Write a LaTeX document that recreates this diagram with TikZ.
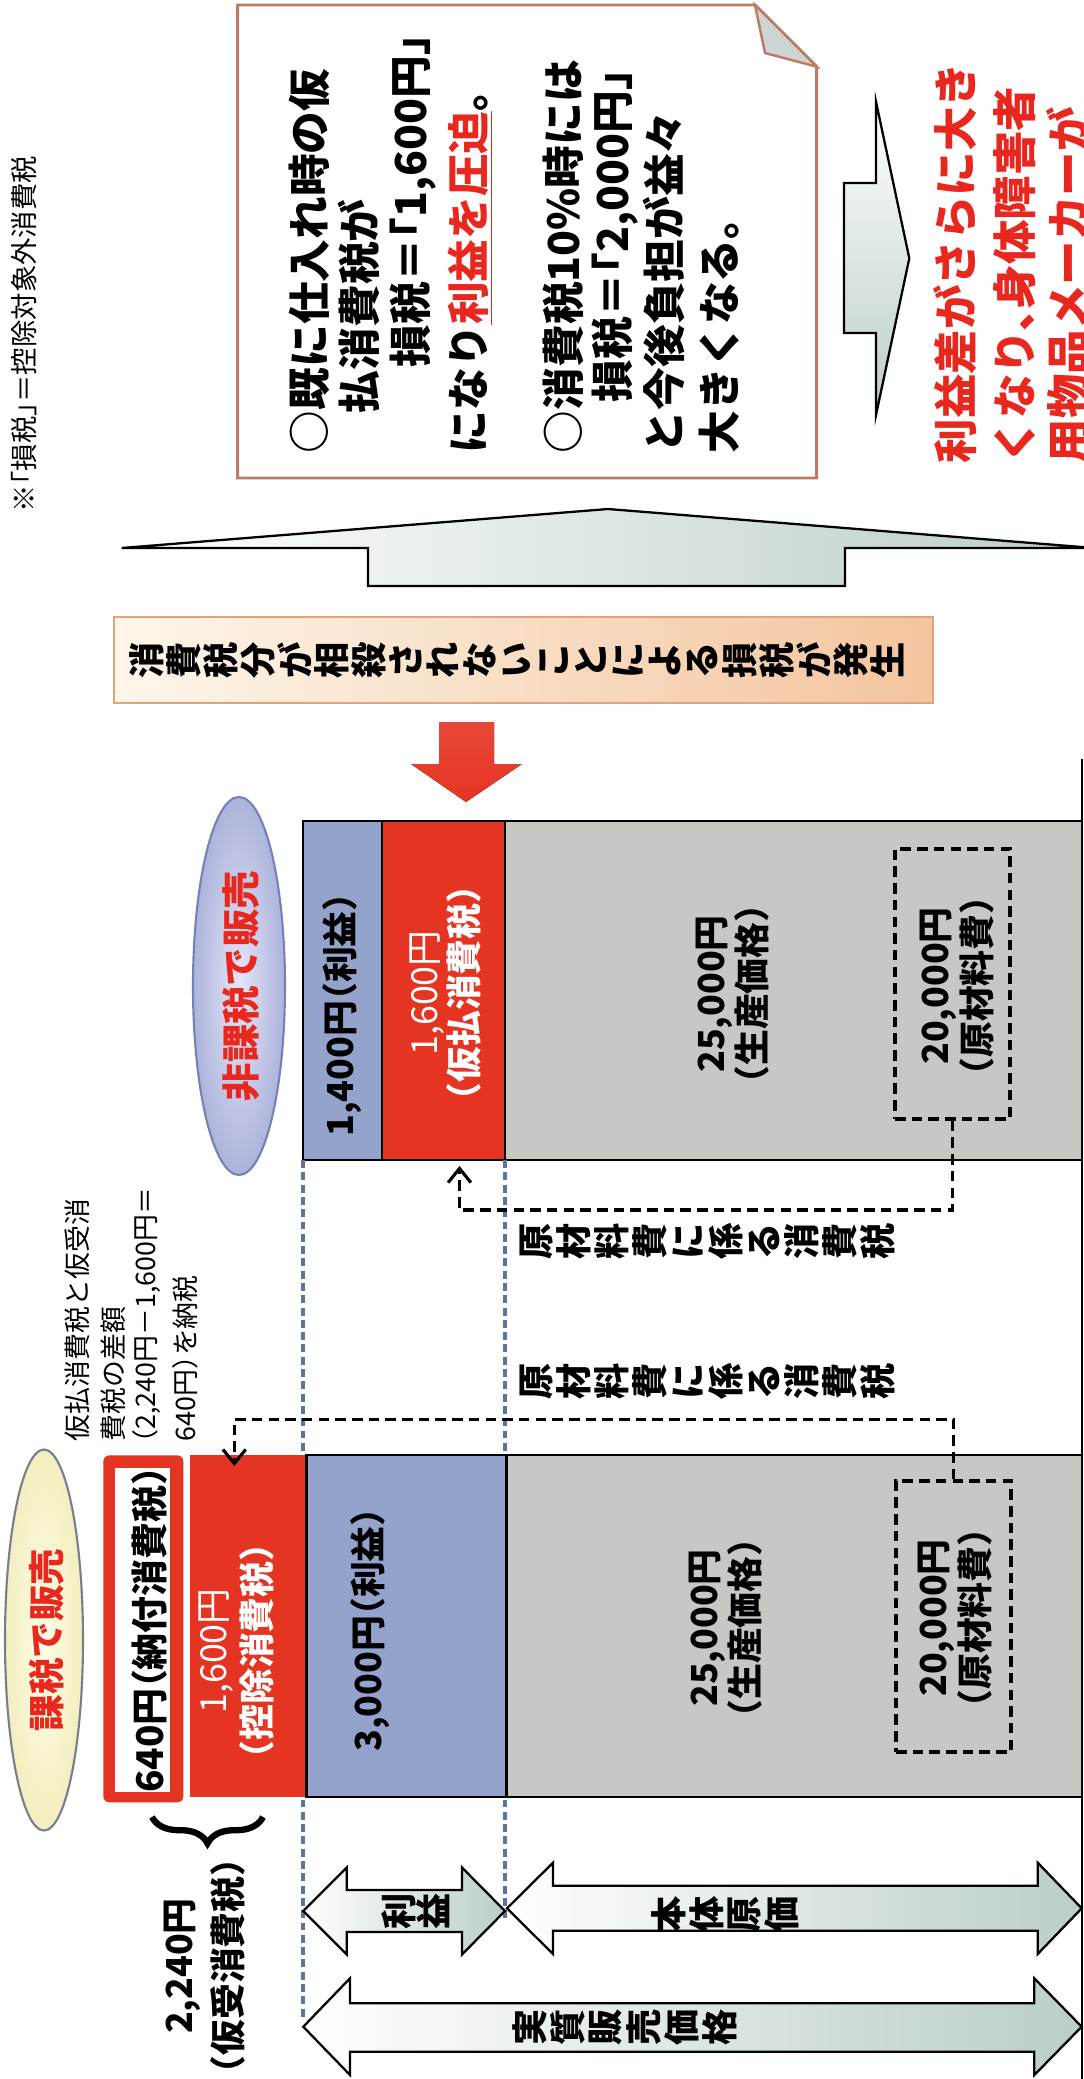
\documentclass[tikz,border=0pt]{standalone}
\usepackage{fontspec}
\setmainfont{Noto Sans CJK JP}[RawFeature=+halt]
\usetikzlibrary{shapes.geometric,arrows.meta,decorations.pathreplacing,calc}
\definecolor{barred}{RGB}{230,52,35}
\definecolor{barblue}{RGB}{148,163,204}
\definecolor{bargray}{RGB}{198,200,195}
\definecolor{txred}{RGB}{232,40,30}
\definecolor{noteedge}{RGB}{190,122,100}
\definecolor{foldfill}{RGB}{205,214,212}
\definecolor{arrowgreen}{RGB}{186,206,202}
\definecolor{guideblue}{RGB}{88,118,160}
\definecolor{peachL}{RGB}{253,246,234}
\definecolor{peachR}{RGB}{244,196,158}
\definecolor{peachedge}{RGB}{222,165,125}
\definecolor{lavIn}{RGB}{228,230,246}
\definecolor{lavOut}{RGB}{172,180,220}
\definecolor{lavEdge}{RGB}{118,130,180}
\definecolor{yelIn}{RGB}{255,253,232}
\definecolor{yelOut}{RGB}{243,238,190}
\definecolor{ellEdge}{RGB}{120,125,140}
\newcommand\fs[1]{\fontsize{#1}{#1}\selectfont}
\def\upx{0.02cm}
\begin{document}
\begin{tikzpicture}[x=0.02cm,y=-0.02cm,
  txrot/.style={inner sep=0pt, outer sep=0pt, rotate=90},
  lnrot/.style={txrot, anchor=west},
  vch/.style={inner sep=0pt, rotate=90, font=\fs{20.6}\bfseries},
  barbox/.style={draw=black, line width=1.6pt, anchor=north west, inner sep=0pt, outer sep=0pt},
  dbox/.style={draw=black, line width=2pt, dash pattern=on 6pt off 3.5pt, inner sep=0pt},
  conn/.style={draw=black, line width=2pt, dash pattern=on 6pt off 3.5pt, -{Straight Barb[length=8pt,width=13pt,line width=1.8pt]}},
  guide/.style={draw=guideblue, line width=1.8pt, dash pattern=on 4.5pt off 2.5pt},
  blockarrow/.style={draw=black, line width=1.3pt, left color=white, right color=arrowgreen},
  notefont/.style={font=\fs{24.3}\bfseries},
  redfont/.style={font=\fs{25.3}\bfseries, text=txred},
  lblfont/.style={font=\fontsize{20.4}{23.5}\selectfont\bfseries, align=center}
]
\useasboundingbox (0,0) rectangle (1084,2079);
\clip (0,0) rectangle (1084,2079);
\fill[white] (0,0) rectangle (1084,2079);

% footnote
\node[txrot, font=\fs{15.6}] (foot) at (24,334) {※「損税」＝控除対象外消費税};

% note box with folded corner
\draw[noteedge, line width=1.7pt, fill=white] (237.7,5) -- (755,5) -- (816.7,66.7) -- (816.7,478) -- (237.7,478) -- cycle;
\draw[noteedge, line width=1.4pt, fill=foldfill] (755,5) -- (765,53) -- (816.7,66.7) -- cycle;

\node[lnrot, notefont] (n1) at (309,453) {○既に仕入れ時の仮};
\node[lnrot, notefont] (n2) at (359,413) {払消費税が};
\node[lnrot, notefont] (n3) at (413,367) {損税＝「1,600円」};
\node[lnrot, notefont] (n4) at (470,453) {になり\textcolor{txred}{\underline{利益を圧迫}}。};
\node[lnrot, notefont] (n5) at (563,453) {○消費税10\%時には};
\node[lnrot, notefont] (n6) at (615,402) {損税＝「2,000円」};
\node[lnrot, notefont] (n7) at (664,453) {と今後負担が益々};
\node[lnrot, notefont] (n8) at (719,453) {大きくなる。};

% right pointing arrow
\draw[draw=black, line width=1.3pt, top color=white, bottom color=arrowgreen]
  (844,183) -- (876,183) -- (876,101.7) -- (909.3,258.3) -- (876,415) -- (876,333) -- (844,333) -- cycle;

% red text on the right (cut by the picture's edge, as in the original)
\node[lnrot, redfont] (r1) at (955,463) {利益差がさらに大き};
\node[lnrot, redfont] (r2) at (1015,463) {くなり、身体障害者};
\node[lnrot, redfont] (r3) at (1068,463) {用物品メーカーが};

% big upward arrow
\draw[blockarrow] (121.7,548) -- (368,548) -- (368,586) -- (845,586) -- (845,548) -- (1094,548) -- (608,509) -- cycle;

% banner
\node[draw=peachedge, line width=1.2pt, left color=peachL, right color=peachR,
  minimum width=819*\upx, minimum height=86*\upx, inner sep=0pt] (banner) at (523.5,660) {};
\foreach \c [count=\i from 0] in {消,費,税,分,が,相,殺,さ,れ,な,い,こ,と,に,よ,る,損,税,が,発,生}
  \node[vch] (bn\i) at (146.5+37.05*\i,660) {\c};

% red down arrow
\fill[top color=barred!90!white, bottom color=barred] (439,722) -- (494,722) -- (494,764) -- (522,764) -- (466,802) -- (411,764) -- (439,764) -- cycle;

% right frame line
\draw[line width=1.6pt] (1082,759) -- (1082,2079);

% ---------- top group (non-taxable) ----------
\node[ellipse, draw=lavEdge, line width=1.2pt, inner color=lavIn, outer color=lavOut,
  minimum width=92*\upx, minimum height=378*\upx, inner sep=0pt] (ell1) at (239,986) {};
\node[txrot, font=\fs{21.9}\bfseries, text=txred] (ell1t) at (241,986) {非課税で販売};

\node[barbox, fill=barblue, minimum width=79*\upx, minimum height=339*\upx] (pb1) at (303,821) {};
\node[barbox, fill=barred, minimum width=123*\upx, minimum height=339*\upx] (pr1) at (382,821) {};
\node[barbox, fill=bargray, minimum width=577*\upx, minimum height=339*\upx] (pg1) at (505,821) {};

% guides
\draw[guide] (pb1.south west) -- ++(0,860);
\draw[guide] (pr1.south east) -- ++(0,761);

\node[dbox, minimum width=115*\upx, minimum height=270*\upx] (rm1) at (952.5,984) {};

\node[txrot, font=\fs{20.4}\bfseries] (t1400) at (342,1015) {1,400円（利益）};
\node[txrot, font=\fontsize{20.4}{23.3}\selectfont, text=white, align=center] (t1600a) at (445.5,993) {1,600円\\\textbf{（仮払消費税）}};
\node[txrot, lblfont] (t25a) at (732.5,994) {25,000円\\（生産価格）};
\node[txrot, lblfont] (t20a) at (957,986) {20,000円\\（原材料費）};

% ---------- bottom group (taxable) ----------
\node[ellipse, draw=ellEdge, line width=1.2pt, inner color=yelIn, outer color=yelOut,
  minimum width=78*\upx, minimum height=381*\upx, inner sep=0pt] (ell2) at (44,1640) {};
\node[txrot, font=\fs{20.8}\bfseries, text=txred] (ell2t) at (47,1640) {課税で販売};

\node[fill=barred, rounded corners=3.4pt, minimum width=80*\upx, minimum height=347*\upx, anchor=north west, inner sep=0pt] (pay) at (103,1455) {};
\node[fill=white, minimum width=55*\upx, minimum height=324*\upx, anchor=north west, inner sep=0pt] (payin) at (115,1468) {};
\node[barbox, draw=none, fill=barred, minimum width=116.7*\upx, minimum height=342*\upx] (pr2) at (190,1455) {};
\node[barbox, fill=barblue, minimum width=200*\upx, minimum height=342*\upx] (pb2) at (306.7,1455) {};
\node[barbox, fill=bargray, minimum width=575.3*\upx, minimum height=342*\upx] (pg2) at (506.7,1455) {};

\node[dbox, minimum width=115*\upx, minimum height=271*\upx] (rm2) at (953.5,1616.5) {};

\node[txrot, font=\fs{21}\bfseries] (t640) at (149,1630) {640円（納付消費税）};
\node[txrot, font=\fontsize{20.4}{25.5}\selectfont, text=white, align=center] (t1600b) at (236.5,1651) {1,600円\\\textbf{（控除消費税）}};
\node[txrot, font=\fs{20.4}\bfseries] (t3000) at (370,1630) {3,000円（利益）};
\node[txrot, lblfont] (t25b) at (725.5,1628) {25,000円\\（生産価格）};
\node[txrot, lblfont] (t20b) at (955,1618) {20,000円\\（原材料費）};

% explanatory small text
\node[lnrot, font=\fs{15.3}] (s1) at (77.5,1441) {仮払消費税と仮受消};
\node[lnrot, font=\fs{15.3}] (s2) at (113,1441) {費税の差額};
\node[lnrot, font=\fs{15.3}] (s3) at (147,1443) {（2,240円－1,600円＝};
\node[lnrot, font=\fs{15.3}] (s4) at (185,1441) {640円）を納税};

% brace and 2,240 text
\draw[line width=3.6pt, decorate, decoration={brace, amplitude=15pt}] (263,1817) -- (152,1817);
\node[txrot, font=\fontsize{20.4}{28}\selectfont\bfseries, align=center] (t2240) at (205,1966) {2,240円\\（仮受消費税）};

% dashed connectors
\coordinate (a1) at (459.5,1166);
\coordinate (a2) at (234.3,1466);
\draw[conn] (rm1.south) -- ++(0,89) -| (a1);
\draw[conn] (rm2.north) -- ++(0,-60) -| (a2);

% 原材料費に係る消費税 (vertical text)
\foreach \c [count=\i from 0] in {原,材,料,費,に,係,る,消,費,税}
  \node[vch] (va\i) at (536+38*\i,1241.7) {\c};
\foreach \c [count=\i from 0] in {原,材,料,費,に,係,る,消,費,税}
  \node[vch] (vb\i) at (536+38*\i,1381.7) {\c};

% bottom double arrows
\draw[blockarrow] (303.3,1911) -- (346.7,1867.5) -- (346.7,1890) -- (462,1890) -- (462,1867.5) -- (505,1911)
  -- (462,1954.5) -- (462,1932) -- (346.7,1932) -- (346.7,1954.5) -- cycle;
\draw[blockarrow] (507,1908.3) -- (553,1862.7) -- (553,1885.7) -- (1037.7,1885.7) -- (1037.7,1862.7) -- (1081.7,1908.3)
  -- (1037.7,1954) -- (1037.7,1930.7) -- (553,1930.7) -- (553,1954) -- cycle;
\draw[blockarrow] (303.3,2026.7) -- (350,1978.3) -- (350,2003.3) -- (1034.3,2003.3) -- (1034.3,1978.3) -- (1081.7,2026.7)
  -- (1034.3,2075) -- (1034.3,2051.7) -- (350,2051.7) -- (350,2075) -- cycle;

\foreach \c [count=\i from 0] in {利,益}
  \node[vch] (vr\i) at (399+34*\i,1911) {\c};
\foreach \c [count=\i from 0] in {本,体,原,価}
  \node[vch] (vh\i) at (669+37.5*\i,1914) {\c};
\foreach \c [count=\i from 0] in {実,質,販,売,価,格}
  \node[vch] (vj\i) at (530+38*\i,2027) {\c};
\end{tikzpicture}
\end{document}
